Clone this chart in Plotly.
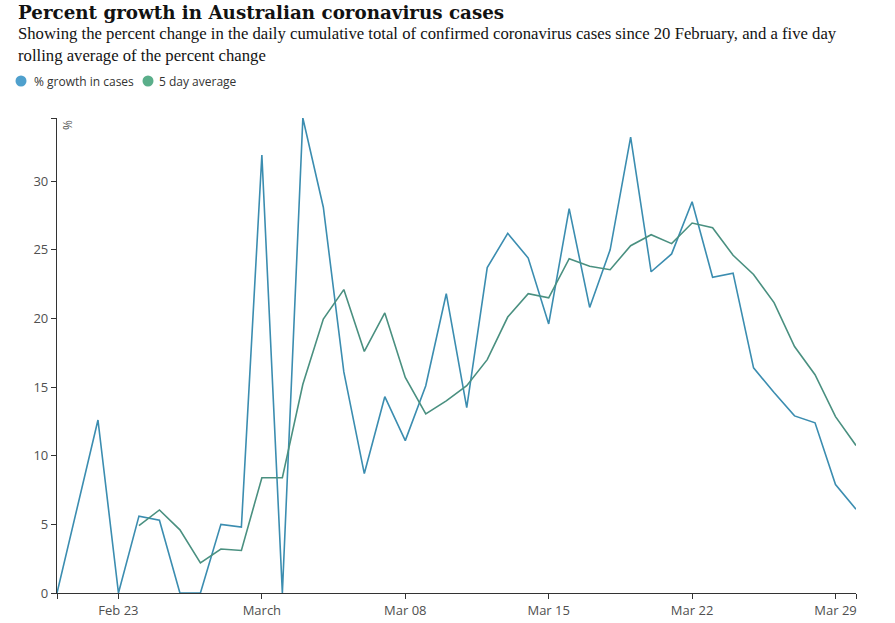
import plotly.graph_objects as go
import pandas as pd

dates = pd.date_range("2020-02-20", "2020-03-30", freq="D")

growth = [0, 6.3, 12.6, 0, 5.6, 5.3, 0, 0, 5.0, 4.8,
          31.9, 0, 34.6, 28.1, 16.1, 8.7, 14.3, 11.1, 15.1, 21.8,
          13.5, 23.7, 26.2, 24.4, 19.6, 28.0, 20.8, 25.0, 33.2, 23.4,
          24.7, 28.5, 23.0, 23.3, 16.4, 14.6, 12.9, 12.4, 7.9, 6.1]

avg5 = [None, None, None, None, 4.9, 6.05, 4.6, 2.2, 3.2, 3.1,
        8.4, 8.4, 15.2, 19.95, 22.1, 17.6, 20.4, 15.7, 13.05, 14.0,
        15.1, 17.0, 20.1, 21.8, 21.5, 24.35, 23.8, 23.55, 25.3, 26.1,
        25.45, 26.95, 26.6, 24.6, 23.2, 21.15, 17.95, 15.9, 12.85, 10.75]

tick_dates = ["2020-02-20", "2020-02-23", "2020-03-01", "2020-03-08",
              "2020-03-15", "2020-03-22", "2020-03-29", "2020-03-30"]
tick_labels = ["", "Feb 23", "March", "Mar 08", "Mar 15", "Mar 22", "Mar 29", ""]

y_ticks = [0, 5, 10, 15, 20, 25, 30, 34.6]
y_labels = ["0", "5", "10", "15", "20", "25", "30", ""]

series_names = ["% growth in cases", "5 day average"]
line_colors = ["#3b8db0", "#4a9080"]
legend_colors = ["#4fa0cd", "#5aae8a"]

W, H = 895, 623
L, R, T, B = 57, 39, 118, 30
PW, PH = W - L - R, H - T - B


def px(xp):
    return (xp - L) / PW


def py(yp):
    return (H - B - yp) / PH


fig = go.Figure()
fig.add_trace(go.Scatter(x=dates, y=growth, mode="lines",
                         line=dict(color=line_colors[0], width=1.6),
                         showlegend=False, name=series_names[0]))
fig.add_trace(go.Scatter(x=dates, y=avg5, mode="lines",
                         line=dict(color=line_colors[1], width=1.6),
                         showlegend=False, name=series_names[1]))

annotations = [
    dict(text="<b>Percent growth in Australian coronavirus cases</b>",
         xref="paper", yref="paper", x=px(16), y=py(12),
         xanchor="left", yanchor="middle", showarrow=False,
         font=dict(family="DejaVu Serif", size=18.3, color="#121212")),
    dict(text="Showing the percent change in the daily cumulative total of confirmed coronavirus cases since 20 February, and a five day<br>rolling average of the percent change",
         xref="paper", yref="paper", x=px(16), y=py(45),
         xanchor="left", yanchor="middle", align="left", showarrow=False,
         font=dict(family="Liberation Serif", size=16.7, color="#121212")),
    dict(text="%", xref="paper", yref="paper", x=px(67), y=py(125),
         xanchor="center", yanchor="middle", textangle=-90, showarrow=False,
         font=dict(family="Open Sans", size=12, color="#555")),
]

shapes = []
legend_x = [(21, 32), (148, 157)]
for (cx, tx), nm, c in zip(legend_x, series_names, legend_colors):
    shapes.append(dict(type="circle", xref="paper", yref="paper",
                       xsizemode="pixel", ysizemode="pixel",
                       xanchor=px(cx), yanchor=py(81),
                       x0=-5.5, x1=5.5, y0=-5.5, y1=5.5,
                       fillcolor=c, line=dict(width=0)))
    annotations.append(dict(text=nm, xref="paper", yref="paper",
                            x=px(tx), y=py(81), xanchor="left", yanchor="middle",
                            showarrow=False,
                            font=dict(family="Open Sans", size=12, color="#333")))

fig.update_layout(
    width=W, height=H,
    paper_bgcolor="white", plot_bgcolor="white",
    margin=dict(l=L, r=R, t=T, b=B, autoexpand=False),
    font=dict(family="Open Sans", size=13, color="#555"),
    showlegend=False,
    xaxis=dict(range=["2020-02-20", "2020-03-30"], showgrid=False,
               showline=True, linecolor="#333", linewidth=1.3,
               tickmode="array", tickvals=tick_dates, ticktext=tick_labels,
               ticks="outside", ticklen=5, tickcolor="#333", tickwidth=1,
               tickfont=dict(family="Open Sans", size=13, color="#505050"),
               zeroline=False, fixedrange=True, automargin=False),
    yaxis=dict(range=[0, 34.6], showgrid=False,
               showline=True, linecolor="#333", linewidth=1.3,
               tickmode="array", tickvals=y_ticks, ticktext=y_labels,
               ticks="outside", ticklen=5, tickcolor="#333", tickwidth=1,
               tickfont=dict(family="Open Sans", size=13, color="#505050"),
               zeroline=False, fixedrange=True, automargin=False),
    annotations=annotations,
    shapes=shapes,
)

fig.write_html("out.html", config={"displayModeBar": False},
               post_script="document.body.style.margin='0';document.body.style.overflow='hidden';")
